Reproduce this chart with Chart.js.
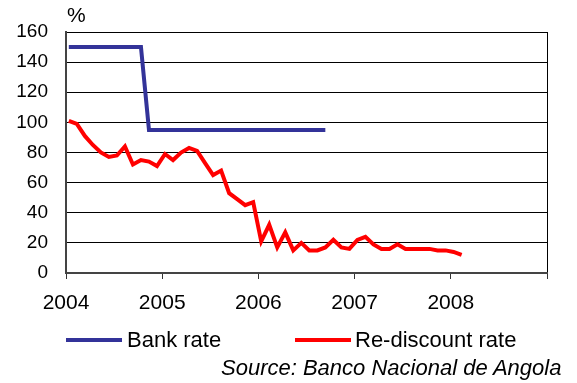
<!DOCTYPE html>
<html>
<head>
<meta charset="utf-8">
<script src="https://cdn.jsdelivr.net/npm/chart.js@4.4.1/dist/chart.umd.min.js"></script>
<style>
  body { margin: 0; background: #fff; }
  #wrap { position: relative; width: 577px; height: 383px; font-family: "Liberation Sans", Arial, sans-serif; color: #000; }
  #chart { position: absolute; left: 0; top: 0; }
  .txt { position: absolute; font-size: 22px; line-height: 22px; white-space: nowrap; }
  .key { position: absolute; height: 4px; }
</style>
</head>
<body>
<div id="wrap">
  <canvas id="chart" width="577" height="383"></canvas>
  <div class="txt" style="left:67px; top:4px; font-size:21px;">%</div>
  <div class="key" style="left:66px; top:338px; width:56px; background:#333399;"></div>
  <div class="txt" style="left:127px; top:329px;">Bank rate</div>
  <div class="key" style="left:295px; top:338px; width:56px; background:#ff0000;"></div>
  <div class="txt" style="left:355px; top:329px;">Re-discount rate</div>
  <div class="txt" style="left:221px; top:357px; font-style:italic;">Source: Banco Nacional de Angola</div>
</div>
<script>
// monthly observations, Jan 2004 - Feb 2008
const months = [
  '2004-01', '2004-02', '2004-03', '2004-04', '2004-05', '2004-06', '2004-07', '2004-08', '2004-09', '2004-10', '2004-11', '2004-12',
  '2005-01', '2005-02', '2005-03', '2005-04', '2005-05', '2005-06', '2005-07', '2005-08', '2005-09', '2005-10', '2005-11', '2005-12',
  '2006-01', '2006-02', '2006-03', '2006-04', '2006-05', '2006-06', '2006-07', '2006-08', '2006-09', '2006-10', '2006-11', '2006-12',
  '2007-01', '2007-02', '2007-03', '2007-04', '2007-05', '2007-06', '2007-07', '2007-08', '2007-09', '2007-10', '2007-11', '2007-12',
  '2008-01', '2008-02'
];

// Bank rate is only published up to Sep 2006
const bankRate = [
  150, 150, 150, 150, 150, 150, 150, 150, 150, 150, 95, 95,
  95, 95, 95, 95, 95, 95, 95, 95, 95, 95, 95, 95,
  95, 95, 95, 95, 95, 95, 95, 95, 95
];

const rediscountRate = [
  101, 99, 91, 85, 80, 77, 78, 84, 72, 75, 74, 71,
  79, 75, 80, 83, 81, 73, 65, 68, 53, 49, 45, 47,
  21, 32, 17, 27, 15, 20, 15, 15, 17, 22, 17, 16,
  22, 24, 19, 16, 16, 19, 16, 16, 16, 16, 15, 15,
  14, 12
];

const yearTicks = [2004, 2005, 2006, 2007, 2008];

// readings are taken around the 11th of each month
function toYear(m) {
  const [y, mo] = m.split('-').map(Number);
  return y + (mo - 1 + 0.35) / 12;
}

function toPoints(values) {
  return values.map((v, i) => ({ x: toYear(months[i]), y: v }));
}

const fontFamily = '"Liberation Sans", Arial, sans-serif';

new Chart(document.getElementById('chart'), {
  type: 'line',
  data: {
    datasets: [
      {
        label: 'Bank rate',
        data: toPoints(bankRate),
        borderColor: '#333399',
        borderWidth: 4,
        pointRadius: 0,
        tension: 0
      },
      {
        label: 'Re-discount rate',
        data: toPoints(rediscountRate),
        borderColor: '#ff0000',
        borderWidth: 4,
        pointRadius: 0,
        tension: 0
      }
    ]
  },
  options: {
    responsive: false,
    animation: false,
    devicePixelRatio: 1,
    layout: { padding: { left: 0, right: 30, top: 32, bottom: 60 } },
    plugins: {
      legend: { display: false },
      tooltip: { enabled: false }
    },
    scales: {
      x: {
        type: 'linear',
        min: 2004,
        max: 2009,
        afterFit: (scale) => { scale.height = 50; },
        afterBuildTicks: (scale) => {
          scale.ticks = yearTicks.concat([2009]).map(v => ({ value: v }));
        },
        ticks: {
          padding: 12,
          maxRotation: 0,
          color: '#000',
          font: { family: fontFamily, size: 21 },
          callback: (v) => yearTicks.includes(v) ? String(v) : ''
        },
        grid: {
          drawTicks: true,
          tickLength: 6,
          tickColor: '#333',
          lineWidth: 1,
          color: (ctx) => (ctx.tick && ctx.tick.value === 2009) ? '#000' : 'rgba(0,0,0,0)'
        },
        border: { color: '#444', width: 2 }
      },
      y: {
        min: 0,
        max: 160,
        afterFit: (scale) => { scale.width = 66; },
        ticks: {
          stepSize: 20,
          padding: 18,
          color: '#000',
          font: { family: fontFamily, size: 19 }
        },
        grid: {
          drawTicks: false,
          color: '#000',
          lineWidth: 1
        },
        border: { color: '#444', width: 2 }
      }
    }
  }
});
</script>
</body>
</html>
